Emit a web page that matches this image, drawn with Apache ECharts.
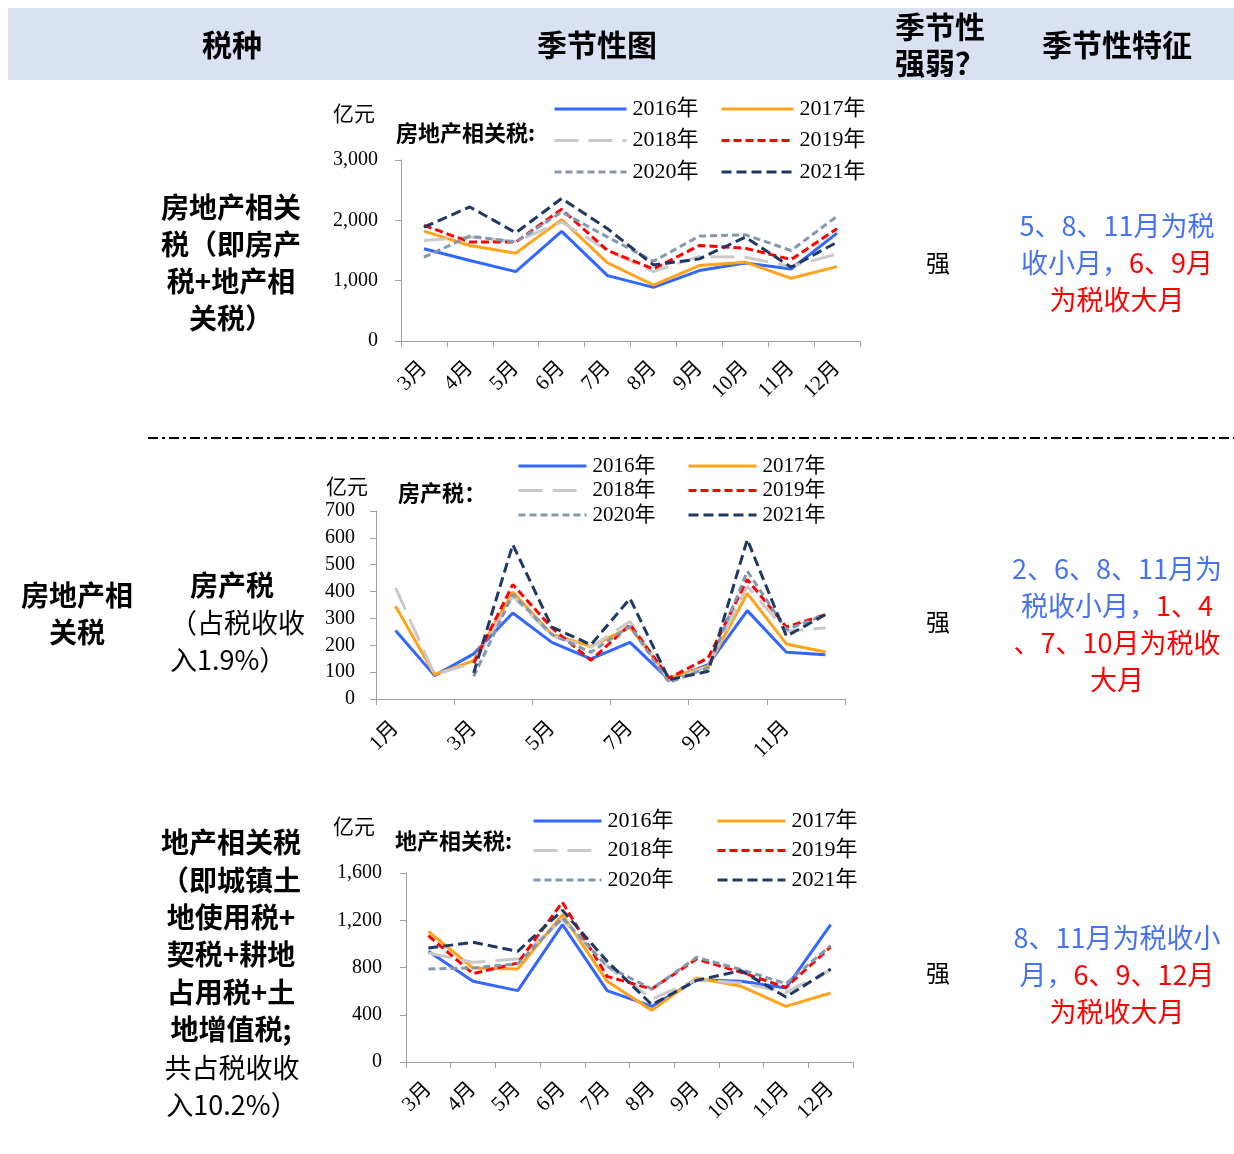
<!DOCTYPE html>
<html>
<head>
<meta charset="utf-8">
<title>房地产相关税季节性</title>
<script src="https://cdn.jsdelivr.net/npm/echarts@6/dist/echarts.min.js"></script>
<style>
  html, body { margin: 0; padding: 0; background: #fff; }
  #chart { width: 1234px; height: 1154px; }
</style>
</head>
<body>
<div id="chart"></div>
<script>
// Categories
const monthsMarToDec = ['3月', '4月', '5月', '6月', '7月', '8月', '9月', '10月', '11月', '12月'];
const monthsJanToDec = ['1月', '2月', '3月', '4月', '5月', '6月', '7月', '8月', '9月', '10月', '11月', '12月'];
const years = ['2016年', '2017年', '2018年', '2019年', '2020年', '2021年'];

// 房地产相关税（亿元），3月—12月
const realEstateAll2016 = [1528, 1333, 1150, 1817, 1083, 889, 1167, 1294, 1194, 1789];
const realEstateAll2017 = [1822, 1583, 1456, 2011, 1294, 928, 1250, 1306, 1039, 1233];
const realEstateAll2018 = [1667, 1722, 1650, 1972, 1500, 1150, 1400, 1389, 1233, 1444];
const realEstateAll2019 = [1917, 1639, 1639, 2183, 1500, 1194, 1583, 1539, 1350, 1861];
const realEstateAll2020 = [1389, 1739, 1639, 2139, 1722, 1322, 1739, 1761, 1500, 2067];
const realEstateAll2021 = [1889, 2222, 1794, 2361, 1861, 1261, 1361, 1722, 1222, 1639];

// 房产税（亿元），1月—12月
const propertyTax2016 = [255, 87, 168, 320, 211, 149, 211, 72, 128, 329, 174, 165];
const propertyTax2017 = [345, 91, 143, 398, 240, 196, 267, 78, 122, 393, 205, 175];
const propertyTax2018 = [414, 91, 134, 383, 234, 193, 289, 66, 122, 420, 252, 265];
const propertyTax2019 = [null, null, 134, 426, 265, 144, 277, 78, 153, 445, 268, 314];
const propertyTax2020 = [null, null, 84, 389, 240, 174, 271, 62, 116, 476, 258, 314];
const propertyTax2021 = [null, null, 97, 575, 268, 202, 374, 72, 103, 594, 234, 314];

// 地产相关税（亿元），3月—12月
const landTax2016 = [937, 683, 604, 1163, 604, 471, 697, 683, 626, 1163];
const landTax2017 = [1106, 796, 787, 1247, 683, 437, 711, 641, 471, 584];
const landTax2018 = [923, 844, 872, 1205, 810, 533, 697, 669, 590, 780];
const landTax2019 = [1069, 748, 838, 1352, 725, 618, 872, 759, 632, 973];
const landTax2020 = [787, 796, 832, 1219, 810, 618, 886, 782, 663, 985];
const landTax2021 = [965, 1013, 937, 1284, 852, 485, 691, 773, 550, 787];

// Axis ticks
const yTicks1 = { min: 0, max: 3000, interval: 1000 };
const yTicks2 = { min: 0, max: 700, interval: 100 };
const yTicks3 = { min: 0, max: 1600, interval: 400 };

const LATIN = "'Liberation Serif', 'Noto Sans CJK SC', serif";
const CJK = "'Noto Sans CJK SC', sans-serif";

const lineLooks = [
  { color: '#3366ff', type: 'solid' },
  { color: '#ffa31a', type: 'solid' },
  { color: '#c9c9c9', type: [24, 10] },
  { color: '#ff0000', type: [8, 4] },
  { color: '#8497b0', type: [7, 4] },
  { color: '#1f3864', type: [10, 5] }
];

const groups = [
  { cats: monthsMarToDec, data: [realEstateAll2016, realEstateAll2017, realEstateAll2018, realEstateAll2019, realEstateAll2020, realEstateAll2021], ticks: yTicks1, labelInterval: 0 },
  { cats: monthsJanToDec, data: [propertyTax2016, propertyTax2017, propertyTax2018, propertyTax2019, propertyTax2020, propertyTax2021], ticks: yTicks2, labelInterval: 1 },
  { cats: monthsMarToDec, data: [landTax2016, landTax2017, landTax2018, landTax2019, landTax2020, landTax2021], ticks: yTicks3, labelInterval: 0 }
];

const grids = [
  { left: 401, top: 160, width: 459, height: 181 },
  { left: 376, top: 511, width: 469, height: 188 },
  { left: 406, top: 873, width: 447, height: 189 }
];
const yLabelMargin = [23, 21, 24];
const xLabelMargin = [24, 26, 24];

const axisColor = '#a0a0a0';
const fmt = v => v.toLocaleString('en-US');

const xAxes = groups.map((g, i) => ({
  type: 'category',
  gridIndex: i,
  data: g.cats,
  boundaryGap: true,
  axisLine: { lineStyle: { color: axisColor, width: 1 } },
  axisTick: { show: true, length: 6, lineStyle: { color: axisColor } },
  axisLabel: { rotate: 45, interval: g.labelInterval, margin: xLabelMargin[i], color: '#000', fontFamily: LATIN, fontSize: 21 },
  splitLine: { show: false }
}));

const yAxes = groups.map((g, i) => ({
  type: 'value',
  gridIndex: i,
  min: g.ticks.min,
  max: g.ticks.max,
  interval: g.ticks.interval,
  axisLine: { show: true, lineStyle: { color: axisColor, width: 1 } },
  axisTick: { show: true, length: 6, lineStyle: { color: axisColor } },
  axisLabel: { color: '#000', fontFamily: LATIN, fontSize: 20, margin: yLabelMargin[i], formatter: fmt },
  splitLine: { show: false }
}));

const series = [];
groups.forEach((g, gi) => {
  g.data.forEach((vals, yi) => {
    series.push({
      type: 'line',
      name: years[yi],
      xAxisIndex: gi,
      yAxisIndex: gi,
      data: vals,
      symbol: 'none',
      smooth: false,
      connectNulls: false,
      lineStyle: { color: lineLooks[yi].color, type: lineLooks[yi].type, width: 3 },
      itemStyle: { color: lineLooks[yi].color },
      animation: false
    });
  });
});

// Two legend columns per panel; the key shows only the line stroke
const legendSpecs = [
  { lefts: [553, 720], top: 97, itemWidth: 72, fontSize: 22, lineHeight: 24, gap: 7.5 },
  { lefts: [517, 687], top: 455, itemWidth: 68, fontSize: 21, lineHeight: 22, gap: 2.5 },
  { lefts: [532, 716], top: 809, itemWidth: 68, fontSize: 22, lineHeight: 24, gap: 5.5 }
];
const legends = [];
legendSpecs.forEach(s => {
  [[years[0], years[2], years[4]], [years[1], years[3], years[5]]].forEach((names, c) => {
    legends.push({
      orient: 'vertical',
      left: s.lefts[c],
      top: s.top,
      padding: 0,
      itemWidth: s.itemWidth,
      itemHeight: 3,
      itemGap: s.gap,
      selectedMode: false,
      itemStyle: { opacity: 0 },
      lineStyle: { width: 3 },
      data: names,
      textStyle: { fontFamily: LATIN, fontSize: s.fontSize, lineHeight: s.lineHeight, color: '#000', padding: [0, 0, 0, 1] }
    });
  });
});

function txt(x, y, text, font, extra) {
  return {
    type: 'text', x: x, y: y, silent: true,
    style: Object.assign({ text: text, font: font, fill: '#000', align: 'center', verticalAlign: 'middle' }, extra || {})
  };
}

const BLUE = '#4472f0';
const RED = '#ff0000';
const featFont = "27px " + CJK;
const richColors = {
  b: { fill: BLUE, font: featFont },
  r: { fill: RED, font: featFont }
};

const headFont = "bold 30px " + CJK;
const boldFont = "bold 28px " + CJK;
const normFont = "27px " + CJK;
const unitFont = "21px " + CJK;
const legTitleFont = "bold 22px " + CJK;

const graphics = [
  { type: 'rect', silent: true, z: -1, shape: { x: 8, y: 8, width: 1226, height: 72 }, style: { fill: '#dae1f2' } },
  txt(232, 45, '税种', headFont),
  txt(597, 45, '季节性图', headFont),
  txt(940, 45, '季节性\n强弱？', headFont, { lineHeight: 36 }),
  txt(1117, 45, '季节性特征', headFont),

  { type: 'line', silent: true, shape: { x1: 148, y1: 438, x2: 1234, y2: 438 }, style: { stroke: '#000', lineWidth: 2, lineDash: [10, 4, 3, 4] } },

  // left column
  txt(231, 263, '房地产相关\n税（即房产\n税+地产相\n关税）', boldFont, { lineHeight: 37 }),
  txt(77, 614, '房地产相\n关税', boldFont, { lineHeight: 37 }),
  txt(232, 585, '房产税', boldFont),
  txt(170, 641, '（占税收收\n入1.9%）', normFont, { align: 'left', lineHeight: 37 }),
  txt(231, 936, '地产相关税\n（即城镇土\n地使用税+\n契税+耕地\n占用税+土\n地增值税;', boldFont, { lineHeight: 37.4 }),
  txt(232, 1086, '共占税收收\n入10.2%）', normFont, { lineHeight: 37 }),

  // units and panel titles
  txt(354, 113, '亿元', unitFont),
  txt(347, 486, '亿元', unitFont),
  txt(354, 826, '亿元', unitFont),
  txt(396, 133, '房地产相关税:', legTitleFont, { align: 'left' }),
  txt(398, 493, '房产税：', legTitleFont, { align: 'left' }),
  txt(395, 841, '地产相关税:', legTitleFont, { align: 'left' }),

  // strength column
  txt(938, 263, '强', "24px " + CJK),
  txt(938, 622, '强', "24px " + CJK),
  txt(938, 973, '强', "24px " + CJK),

  // seasonal features
  txt(1117, 263, '{b|5、8、11月为税}\n{b|收小月，}{r|6、9月}\n{r|为税收大月}', featFont, { lineHeight: 37, rich: richColors }),
  txt(1117, 624, '{b|2、6、8、11月为}\n{b|税收小月，}{r|1、4}\n{r|、7、10月为税收}\n{r|大月}', featFont, { lineHeight: 37, rich: richColors }),
  txt(1117, 975, '{b|8、11月为税收小}\n{b|月，}{r|6、9、12月}\n{r|为税收大月}', featFont, { lineHeight: 37, rich: richColors })
];

const chart = echarts.init(document.getElementById('chart'), null, { renderer: 'canvas' });
chart.setOption({
  backgroundColor: '#ffffff',
  animation: false,
  grid: grids,
  xAxis: xAxes,
  yAxis: yAxes,
  legend: legends,
  series: series,
  graphic: graphics
});
</script>
</body>
</html>
